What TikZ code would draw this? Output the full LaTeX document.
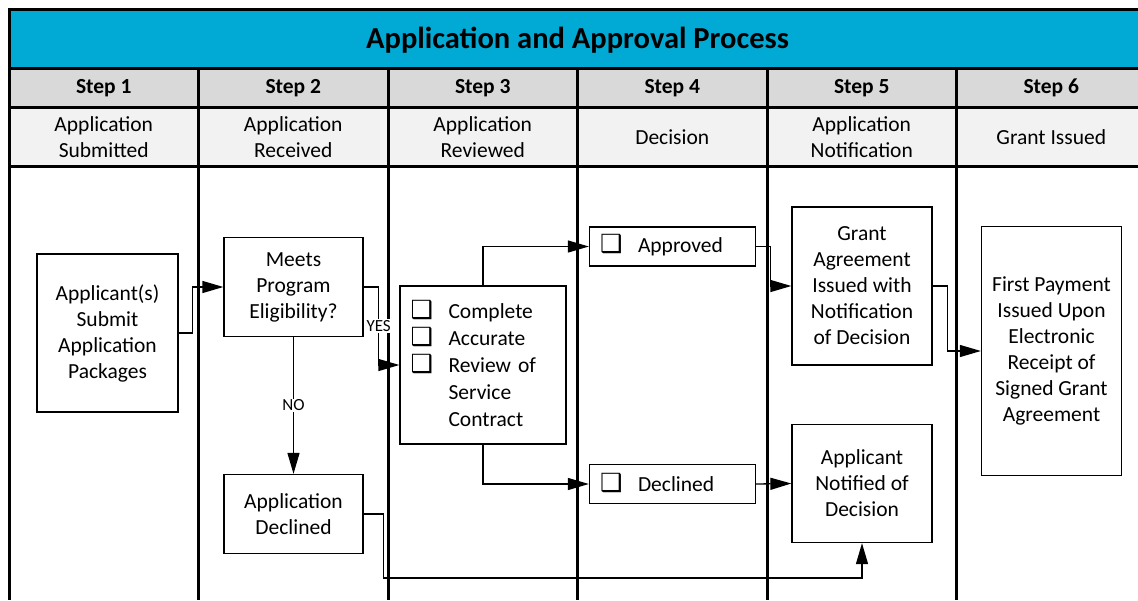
\documentclass[tikz,border=0pt]{standalone}
\usepackage{fontspec}
\setmainfont{Carlito}
\newfontfamily\boxfont{DejaVu Sans}
\usetikzlibrary{arrows.meta}

\definecolor{titleblue}{RGB}{0,170,212}
\definecolor{stepgray}{RGB}{217,217,217}
\definecolor{subgray}{RGB}{242,242,242}
\newcommand{\chk}{\makebox[38pt][l]{\smash{\boxfont\bfseries\fontsize{25pt}{20pt}\selectfont ❑}}}

\begin{document}
\begin{tikzpicture}[x=1pt,y=-1pt,
   font=\fontsize{21.5pt}{26pt}\selectfont,
   grid/.style={line width=3pt},
   box/.style={draw,line width=1.3pt,align=center,inner sep=0pt},
   lst/.style={draw,line width=1.3pt,align=left,inner ysep=0pt,inner xsep=10.5pt},
   flow/.style={line width=1.3pt,-{Triangle[length=21pt,width=12pt]}},
   lbl/.style={fill=white,inner sep=1pt,font=\fontsize{17pt}{19pt}\selectfont},
   stp/.style={font=\bfseries\fontsize{21.5pt}{26pt}\selectfont}]
   \useasboundingbox (0,0) rectangle (1138,600);

   % header rows
   \fill[titleblue] (9,9) rectangle (1138,68);
   \fill[stepgray] (9,68) rectangle (1138,107);
   \fill[subgray] (9,107) rectangle (1138,166);
   \draw[grid] (1138,9) -- (9,9) -- (9,600);
   \draw[grid] (9,68) -- (1138,68);
   \draw[grid] (9,107) -- (1138,107);
   \draw[grid] (9,166) -- (1138,166);
   \draw[grid] (198.5,68) -- (198.5,600);
   \draw[grid] (388,68) -- (388,600);
   \draw[grid] (577.5,68) -- (577.5,600);
   \draw[grid] (767,68) -- (767,600);
   \draw[grid] (956.5,68) -- (956.5,600);

   \node[font=\bfseries\fontsize{30.5pt}{36pt}\selectfont] (t) at (577.5,40) {Application and Approval Process};

   \node[stp] (h1) at (103.75,88) {Step 1};
   \node[stp] (h2) at (293.25,88) {Step 2};
   \node[stp] (h3) at (482.75,88) {Step 3};
   \node[stp] (h4) at (672.25,88) {Step 4};
   \node[stp] (h5) at (861.75,88) {Step 5};
   \node[stp] (h6) at (1051.25,88) {Step 6};

   \node[align=center] (g1) at (103.75,137) {Application\\Submitted};
   \node[align=center] (g2) at (293.25,137) {Application\\Received};
   \node[align=center] (g3) at (482.75,137) {Application\\Reviewed};
   \node (g4) at (672.25,137) {Decision};
   \node[align=center] (g5) at (861.75,137) {Application\\Notification};
   \node (g6) at (1051.25,137) {Grant Issued};

   % process boxes
   \node[box,minimum width=141pt,minimum height=158pt] (a) at (107.5,333) {Applicant(s)\\Submit\\Application\\Packages};
   \node[box,minimum width=139pt,minimum height=99pt] (b) at (293.5,287) {Meets\\Program\\Eligibility?};
   \node[box,minimum width=139pt,minimum height=79pt] (c) at (293.5,514) {Application\\Declined};
   \node[lst,text width=145pt,minimum height=158pt,font=\fontsize{21.5pt}{27pt}\selectfont] (d) at (483,365) {\chk Complete\\\chk Accurate\\\chk Review of\\\hspace*{38pt}Service\\\hspace*{38pt}Contract\\[-8pt]};
   \node[lst,text width=145pt,minimum height=39pt] (e) at (672.5,246.5) {\chk Approved};
   \node[lst,text width=145pt,minimum height=39pt] (f) at (672.5,484) {\chk Declined};
   \node[box,minimum width=140pt,minimum height=158pt] (g) at (862,286) {Grant\\Agreement\\Issued with\\Notification\\of Decision};
   \node[box,minimum width=140pt,minimum height=118pt] (h) at (862,483.5) {Applicant\\Notified of\\Decision};
   \node[box,minimum width=140pt,minimum height=249pt] (i) at (1051.5,351) {First Payment\\Issued Upon\\Electronic\\Receipt of\\Signed Grant\\Agreement};

   % connectors
   \draw[flow] (a.east) -- ++(14,0) |- (b.west);
   \draw[flow] (b.east) -- ++(15,0) |- node[lbl,pos=0.25] {YES} (d.west);
   \draw[flow] (b) -- node[lbl] {NO} (c);
   \draw[flow] (d.north) |- (e.west);
   \draw[flow] (d.south) |- (f.west);
   \draw[flow] (e.east) -- ++(14,0) |- (g.west);
   \draw[flow] (f.east) -- (h.west);
   \draw[flow] (g.east) -- ++(15,0) |- (i.west);
   \draw[flow] (c.east) -- ++(20,0) -- ++(0,64) -| (h.south);
\end{tikzpicture}
\end{document}
